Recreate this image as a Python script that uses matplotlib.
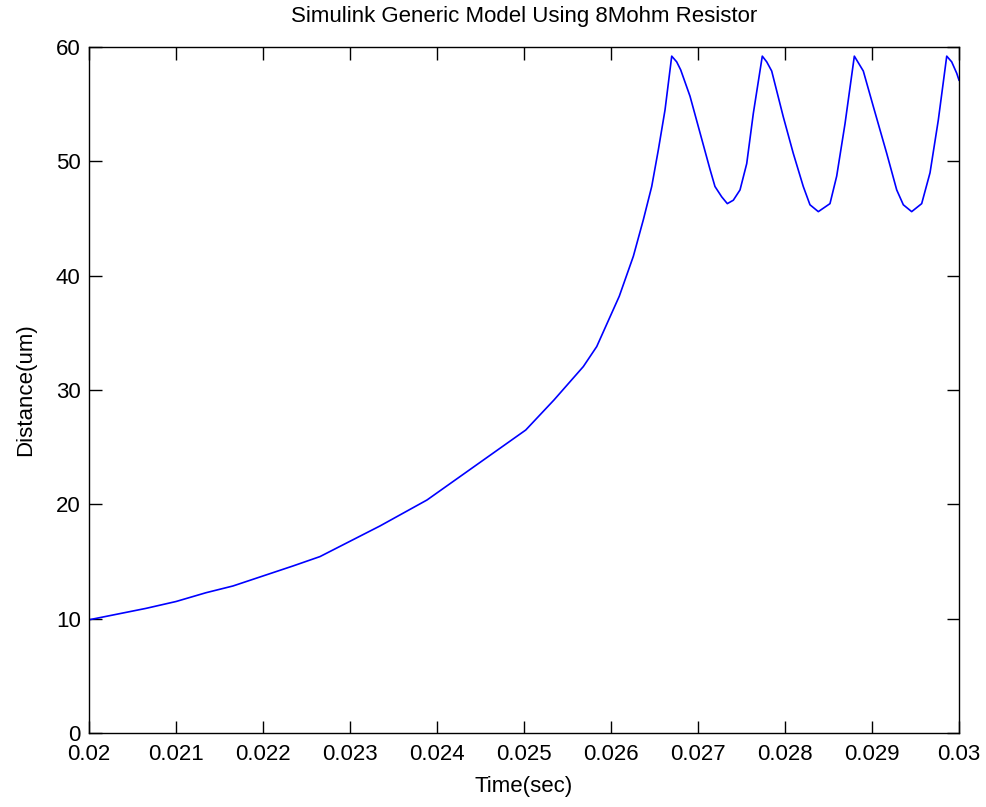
import matplotlib
matplotlib.use("Agg")
import matplotlib.pyplot as plt
from matplotlib import font_manager

names = {f.name for f in font_manager.fontManager.ttflist}
fam = ["Liberation Sans Narrow", "Liberation Sans", "DejaVu Sans"]
fam = [f for f in fam if f in names] or ["DejaVu Sans"]
plt.rcParams["font.family"] = fam

time_s = [0.02000, 0.020655, 0.02100, 0.021345, 0.021655, 0.022345, 0.022655,
          0.023345, 0.023885, 0.024345, 0.025020, 0.025345, 0.025682, 0.025836,
          0.025989, 0.026095, 0.026257, 0.026372, 0.026468, 0.026544, 0.026621,
          0.026698, 0.026755, 0.026801, 0.026908, 0.027023, 0.027138, 0.027195,
          0.027272, 0.027337, 0.027406, 0.027483, 0.027560, 0.027636, 0.027739,
          0.027790, 0.027847, 0.027980, 0.028095, 0.028210, 0.028287, 0.028383,
          0.028517, 0.028594, 0.028690, 0.028797, 0.028900, 0.029015, 0.029169,
          0.029284, 0.029360, 0.029456, 0.029571, 0.029667, 0.029762, 0.029859,
          0.029916, 0.029974, 0.030000]
distance_um = [9.9, 10.9, 11.5, 12.27, 12.86, 14.61, 15.43,
               18.11, 20.38, 22.86, 26.5, 29.13, 32.05, 33.8,
               36.4, 38.2, 41.7, 44.9, 47.8, 51.0, 54.5,
               59.2, 58.7, 58.0, 55.7, 52.5, 49.3, 47.8,
               46.9, 46.3, 46.6, 47.5, 49.8, 54.2, 59.2,
               58.7, 57.9, 53.9, 50.7, 47.8, 46.2, 45.6,
               46.3, 48.7, 53.3, 59.2, 57.9, 54.8, 50.7,
               47.5, 46.2, 45.6, 46.3, 49.0, 53.6, 59.2,
               58.7, 57.7, 57.1]

x_ticks = [0.02, 0.021, 0.022, 0.023, 0.024, 0.025, 0.026, 0.027, 0.028, 0.029, 0.03]
x_labels = ["0.02", "0.021", "0.022", "0.023", "0.024", "0.025", "0.026",
            "0.027", "0.028", "0.029", "0.03"]
y_ticks = [0, 10, 20, 30, 40, 50, 60]

fig = plt.figure(figsize=(9.87, 8.07), dpi=100)
ax = fig.add_axes([89/987, 1-733/807, 870/987, 686/807])
ax.plot(time_s, distance_um, color="#0000ff", linewidth=1.2)
ax.set_xlim(0.02, 0.03)
ax.set_ylim(0, 60)
ax.set_xticks(x_ticks)
ax.set_xticklabels(x_labels)
ax.set_yticks(y_ticks)
ax.tick_params(direction="in", length=9, width=1, top=True, right=True,
               labelsize=16)
ax.tick_params(axis="x", pad=8)
ax.tick_params(axis="y", pad=6)
for s in ax.spines.values():
    s.set_linewidth(1)
ax.set_title("Simulink Generic Model Using 8Mohm Resistor", fontsize=16, pad=18)
ax.set_xlabel("Time(sec)", fontsize=16, labelpad=8)
ax.set_ylabel("Distance(um)", fontsize=16, labelpad=14)
fig.savefig("out.png", dpi=100)
